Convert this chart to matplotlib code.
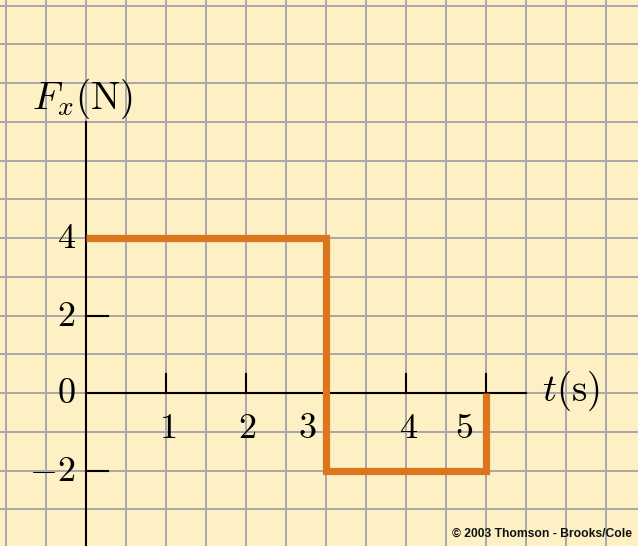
import matplotlib
matplotlib.use("Agg")
import matplotlib.pyplot as plt
import numpy as np

plt.rcParams["mathtext.fontset"] = "cm"

# dados da força em função do tempo
tempo = [0, 3, 3, 5, 5]
forca = [4, 4, -2, -2, 0]

# marcas dos eixos
x_ticks = [1, 2, 3, 4, 5]
x_rotulos = ["1", "2", "3", "4", "5"]
x_desloc = [0.02, 0.02, -0.24, 0.03, -0.27]
y_ticks = [4, 2, 0, -2]
y_rotulos = ["4", "2", "0", "-2"]

fundo = "#fdf0c4"
grade = "#a9a7ab"
laranja = "#dc761c"

fig = plt.figure(figsize=(6.38, 5.46), dpi=100, facecolor=fundo)
ax = fig.add_axes([0, 0, 1, 1])
ax.set_facecolor(fundo)
ax.set_xlim(-1.075, 6.9)
ax.set_ylim(-3.948, 10.142)
for s in ax.spines.values():
    s.set_visible(False)
ax.set_xticks([])
ax.set_yticks([])

# papel quadriculado
for xg in np.arange(-1.0, 7.0, 0.5):
    ax.axvline(xg, color=grade, lw=1.4, zorder=1)
for yg in np.arange(-3, 11, 1):
    ax.axhline(yg, color=grade, lw=1.4, zorder=1)

# eixos
ax.plot([0, 0], [-3.948, 7.0], color="black", lw=1.5, zorder=3)
ax.plot([0, 5.5], [0, 0], color="black", lw=1.5, zorder=3)
for xt in x_ticks:
    ax.plot([xt, xt], [0, 0.5], color="black", lw=1.5, zorder=3)
for yt in y_ticks:
    if yt != 0:
        ax.plot([0, 0.27], [yt, yt], color="black", lw=1.5, zorder=3)

# curva
ax.plot(tempo, forca, color=laranja, lw=5.2, solid_joinstyle="miter",
        solid_capstyle="butt", zorder=4)

# rótulos
for xt, rot, d in zip(x_ticks, x_rotulos, x_desloc):
    ax.text(xt + d, -0.9, f"${rot}$", fontsize=26, ha="center", va="center", zorder=5)
for yt, rot in zip(y_ticks, y_rotulos):
    ax.text(-0.13, yt, f"${rot}$", fontsize=26, ha="right", va="center", zorder=5)

ax.text(-0.68, 7.6, r"$F_x(\mathrm{N})$", fontsize=28, ha="left", va="center", zorder=5)
ax.text(5.7, 0.05, r"$t(\mathrm{s})$", fontsize=28, ha="left", va="center", zorder=5)

ax.text(0.99, 0.012, "© 2003 Thomson - Brooks/Cole", transform=ax.transAxes,
        fontsize=8.7, fontweight="bold", family="Liberation Sans",
        ha="right", va="bottom", color="#111111", zorder=5)

fig.savefig("out.png", dpi=100, facecolor=fundo)
